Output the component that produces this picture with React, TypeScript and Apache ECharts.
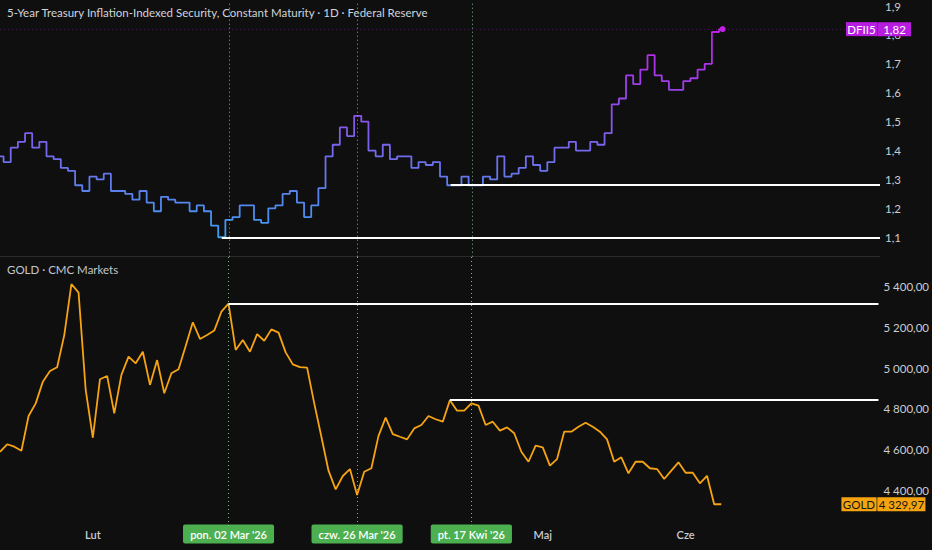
import React, { useEffect, useRef } from 'react';
import * as echarts from 'echarts';

// ---- axis construction (US trading days) ----
const START = [2026, 0, 13];
const HOLIDAYS = ['2026-01-19', '2026-02-16', '2026-05-25'];
const DAY_COUNT = 124;

function tradingDays(start: number[], count: number, holidays: string[]): string[] {
  const out: string[] = [];
  const d = new Date(Date.UTC(start[0], start[1], start[2]));
  while (out.length < count) {
    const iso = d.toISOString().slice(0, 10);
    const wd = d.getUTCDay();
    if (wd !== 0 && wd !== 6 && holidays.indexOf(iso) < 0) out.push(iso);
    d.setUTCDate(d.getUTCDate() + 1);
  }
  return out;
}
const days = tradingDays(START, DAY_COUNT, HOLIDAYS);

// ---- data ----
const dfii5 = [
  1.38, 1.36, 1.41, 1.43, 1.46, 1.41, 1.43, 1.38, 1.37, 1.34,
  1.33, 1.28, 1.26, 1.31, 1.30, 1.32, 1.26, 1.26, 1.25, 1.23,
  1.26, 1.22, 1.19, 1.24, 1.23, 1.22, 1.22, 1.19, 1.21, 1.19,
  1.14, 1.10, 1.16, 1.17, 1.21, 1.21, 1.16, 1.15, 1.20, 1.21,
  1.25, 1.26, 1.22, 1.17, 1.21, 1.27, 1.38, 1.42, 1.48, 1.45,
  1.52, 1.50, 1.40, 1.38, 1.42, 1.37, 1.38, 1.38, 1.34, 1.36,
  1.35, 1.36, 1.31, 1.28, 1.28, 1.31, 1.28, 1.28, 1.31, 1.30,
  1.38, 1.31, 1.32, 1.34, 1.38, 1.35, 1.33, 1.36, 1.41, 1.41,
  1.43, 1.40, 1.40, 1.43, 1.42, 1.46, 1.56, 1.58, 1.66, 1.63,
  1.68, 1.73, 1.66, 1.64, 1.61, 1.61, 1.64, 1.65, 1.68, 1.70,
  1.81, 1.82,
];

const gold = [
  4588, 4625, 4613, 4593, 4764, 4826, 4933, 4985, 5004, 5162,
  5413, 5371, 4892, 4657, 4945, 4961, 4777, 4966, 5056, 5023,
  5080, 4917, 5039, 4876, 4974, 4994, 5108, 5225, 5143, 5162,
  5184, 5277, 5317, 5089, 5138, 5080, 5167, 5134, 5190, 5174,
  5077, 5018, 5004, 5002, 4826, 4662, 4495, 4403, 4469, 4503,
  4375, 4490, 4507, 4666, 4756, 4675, 4662, 4649, 4703, 4720,
  4764, 4748, 4736, 4842, 4790, 4790, 4826, 4815, 4720, 4736,
  4692, 4708, 4679, 4588, 4539, 4618, 4610, 4520, 4552, 4687,
  4687, 4711, 4731, 4711, 4687, 4649, 4539, 4561, 4482, 4539,
  4539, 4507, 4503, 4454, 4495, 4536, 4485, 4485, 4433, 4470,
  4330, 4329.97,
];

const monthLabels: Record<string, string> = {
  '2026-02-02': 'Lut',
  '2026-05-01': 'Maj',
  '2026-06-01': 'Cze',
};
const markedDays: Record<string, string> = {
  '2026-03-02': "pon. 02 Mar '26",
  '2026-03-26': "czw. 26 Mar '26",
  '2026-04-17': "pt. 17 Kwi '26",
};
const dfiiLevels = [
  { from: '2026-02-27', value: 1.10 },
  { from: '2026-04-14', value: 1.28 },
];
const goldLevels = [
  { from: '2026-03-02', value: 5317 },
  { from: '2026-04-14', value: 4842 },
];

const TITLE_TOP = '5-Year Treasury Inflation-Indexed Security, Constant Maturity · 1D · Federal Reserve';
const TITLE_BOTTOM = 'GOLD · CMC Markets';

const FONT = "Lato, 'Noto Sans', sans-serif";
const BG = '#0f0f0f';
const TEXT = '#c9ccd3';
const PURPLE = '#c21ee6';
const BLUE = '#3d9df0';
const ORANGE = '#f6a314';
const GREEN = '#4caf50';

const fmtTop = (v: number) => v.toFixed(1).replace('.', ',');
const fmtTop2 = (v: number) => v.toFixed(2).replace('.', ',');
const fmtGold = (v: number) => {
  const [i, f] = v.toFixed(2).split('.');
  return i.replace(/\B(?=(\d{3})+(?!\d))/g, ' ') + ',' + f;
};

export default function App() {
  const ref = useRef<HTMLDivElement>(null);

  useEffect(() => {
    if (!ref.current) return;
    const chart = echarts.init(ref.current, undefined, { renderer: 'svg' });
    const lastDay = days[days.length - 1];
    const lastIdx = dfii5.length - 1;
    const lastGold = gold[gold.length - 1];

    const greenDots = { type: [1, 3], color: 'rgba(130,205,145,0.9)', width: 1 };
    const verticals = Object.keys(markedDays).map((d) => ({
      xAxis: d,
      lineStyle: greenDots,
      label: { show: false },
    }));
    const levelPairs = (levels: { from: string; value: number }[]) =>
      levels.map((l) => [
        { coord: [l.from, l.value], lineStyle: { color: '#ffffff', width: 2, type: 'solid' }, label: { show: false } },
        { coord: [lastDay, l.value] },
      ]);

    const titleStyle = { color: '#d1d4dc', fontSize: 11.5, fontWeight: 'normal', fontFamily: FONT };

    const option: any = {
      animation: false,
      backgroundColor: BG,
      textStyle: { fontFamily: FONT },
      title: [
        { text: TITLE_TOP, left: 7, top: 6, padding: 0, textStyle: titleStyle },
        { text: TITLE_BOTTOM, left: 7, top: 263, padding: 0, textStyle: { ...titleStyle, color: '#c3c6ce' } },
      ],
      grid: [
        { left: -1, right: 52, top: 0, height: 256.7 },
        { left: -1, right: 52, top: 257, height: 269 },
      ],
      xAxis: [
        {
          type: 'category', gridIndex: 0, data: days, boundaryGap: false,
          axisLine: { show: true, lineStyle: { color: '#2a2a2a', width: 1 } },
          axisTick: { show: false }, axisLabel: { show: false }, splitLine: { show: false },
        },
        {
          type: 'category', gridIndex: 1, data: days, boundaryGap: false,
          axisLine: { show: false }, axisTick: { show: false }, splitLine: { show: false },
          axisLabel: {
            interval: (_i: number, v: string) => !!(monthLabels[v] || markedDays[v]),
            margin: 2,
            formatter: (v: string) => (markedDays[v] ? `{g|${markedDays[v]}}` : monthLabels[v] ? `{m|${monthLabels[v]}}` : ''),
            rich: {
              g: { backgroundColor: GREEN, color: '#ffffff', padding: [4, 7, 4, 7], borderRadius: 2, fontSize: 11, fontWeight: 600, fontFamily: FONT, lineHeight: 12 },
              m: { color: TEXT, padding: [4, 0, 4, 0], fontSize: 11, fontWeight: 600, fontFamily: FONT, lineHeight: 12 },
            },
          },
        },
      ],
      yAxis: [
        {
          type: 'value', gridIndex: 0, position: 'right', min: 1.0328, max: 1.908, splitNumber: 8,
          splitLine: { show: false }, axisLine: { show: false }, axisTick: { show: false },
          axisLabel: { margin: 5, color: TEXT, fontSize: 11.5, fontFamily: FONT, formatter: fmtTop, showMinLabel: false, showMaxLabel: false },
        },
        {
          type: 'value', gridIndex: 1, position: 'right', min: 4223, max: 5546, splitNumber: 6,
          splitLine: { show: false }, axisLine: { show: false }, axisTick: { show: false },
          axisLabel: { margin: 5, color: TEXT, fontSize: 11.5, fontFamily: FONT, formatter: fmtGold, showMinLabel: false, showMaxLabel: false },
        },
      ],
      series: [
        {
          name: 'DFII5', type: 'line', xAxisIndex: 0, yAxisIndex: 0, data: dfii5, step: 'middle',
          symbol: 'none', z: 3,
          lineStyle: {
            width: 1.8,
            color: { type: 'linear', x: 0, y: 0, x2: 0, y2: 1, colorStops: [{ offset: 0, color: PURPLE }, { offset: 1, color: BLUE }] },
          },
          markPoint: {
            silent: true,
            data: [{ coord: [days[lastIdx], dfii5[lastIdx]], symbol: 'circle', symbolSize: 6, itemStyle: { color: PURPLE }, label: { show: false } }],
          },
          markLine: {
            silent: true, symbol: ['none', 'none'], animation: false,
            label: { show: false },
            data: [
              ...verticals,
              ...levelPairs(dfiiLevels),
              {
                yAxis: dfii5[lastIdx],
                lineStyle: { type: [1, 3], color: 'rgba(194,30,230,0.3)', width: 1 },
                label: {
                  show: true, position: 'end', distance: -34,
                  formatter: `{a|DFII5}{s|}{b|${fmtTop2(dfii5[lastIdx])}}`,
                  rich: {
                    a: { backgroundColor: '#b81ce0', color: '#ffffff', width: 31, align: 'center', padding: [1, 0], lineHeight: 12, fontSize: 11.5, fontFamily: FONT },
                    s: { backgroundColor: '#8f16b0', width: 1, height: 14 },
                    b: { backgroundColor: '#b81ce0', color: '#ffffff', width: 33, align: 'center', padding: [1, 0], lineHeight: 12, fontSize: 11.5, fontFamily: FONT },
                  },
                },
              },
            ],
          },
        },
        {
          name: 'GOLD', type: 'line', xAxisIndex: 1, yAxisIndex: 1, data: gold,
          symbol: 'none', z: 3,
          lineStyle: { width: 1.8, color: ORANGE },
          markLine: {
            silent: true, symbol: ['none', 'none'], animation: false,
            label: { show: false },
            data: [
              ...verticals,
              ...levelPairs(goldLevels),
              {
                yAxis: lastGold,
                lineStyle: { color: 'rgba(0,0,0,0)', width: 1, type: 'solid' },
                label: {
                  show: true, position: 'end', distance: -37,
                  formatter: `{a|GOLD}{s|}{b|${fmtGold(lastGold)}}`,
                  rich: {
                    a: { backgroundColor: '#f5a30f', color: '#151515', width: 35, align: 'center', padding: [1, 0], lineHeight: 11, fontSize: 11.5, fontFamily: FONT },
                    s: { backgroundColor: '#c98308', width: 1, height: 13 },
                    b: { backgroundColor: '#f5a30f', color: '#151515', width: 48, align: 'center', padding: [1, 0], lineHeight: 11, fontSize: 11.5, fontFamily: FONT },
                  },
                },
              },
            ],
          },
        },
      ],
    };

    chart.setOption(option);
    return () => chart.dispose();
  }, []);

  return <div ref={ref} style={{ position: 'absolute', left: 0, top: 0, width: 932, height: 550 }} />;
}
